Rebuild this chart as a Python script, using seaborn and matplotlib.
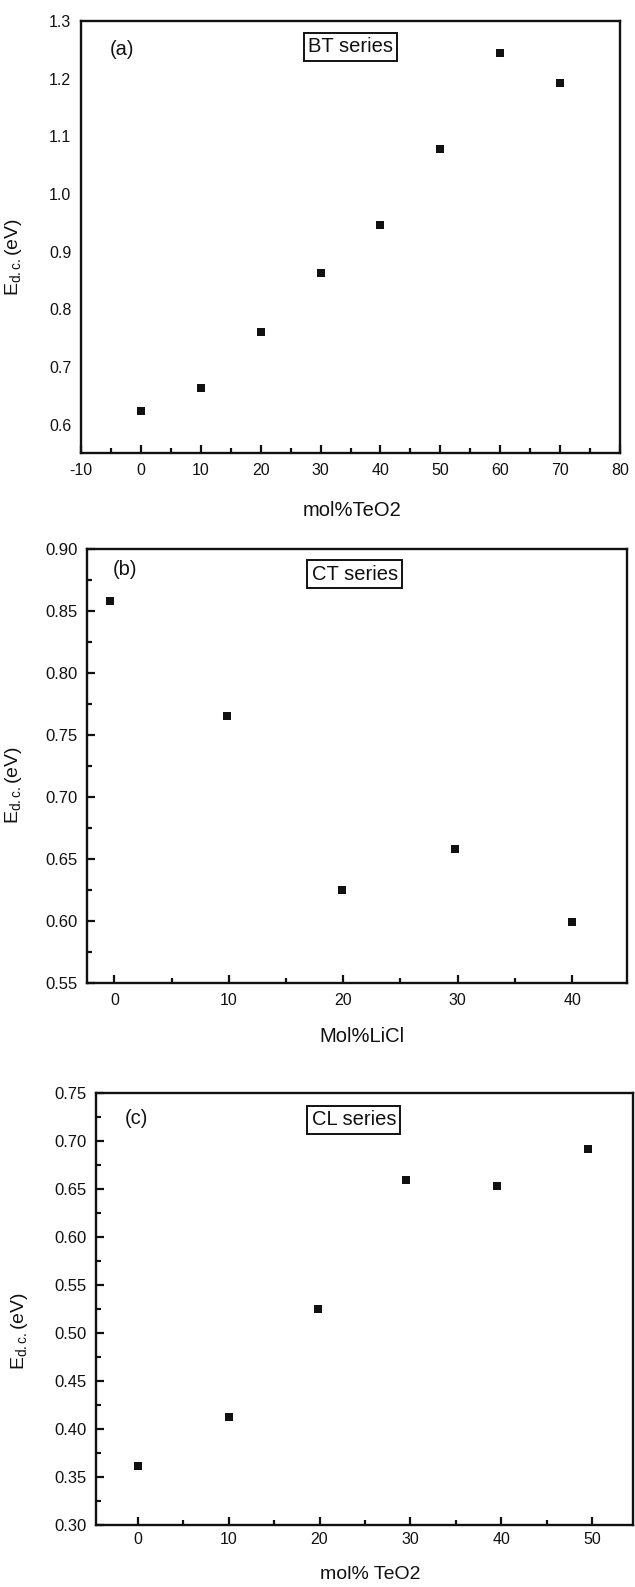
import matplotlib
matplotlib.use("Agg")
import matplotlib.pyplot as plt
from matplotlib.ticker import MultipleLocator, FormatStrFormatter
import seaborn as sns
import pandas as pd

# ---- data ----
bt_x = [0, 10, 20, 30, 40, 50, 60, 70]
bt_y = [0.624, 0.663, 0.761, 0.863, 0.946, 1.078, 1.245, 1.192]

ct_x = [-0.4, 9.8, 19.9, 29.8, 40]
ct_y = [0.858, 0.765, 0.625, 0.658, 0.599]

cl_x = [0, 10, 19.8, 29.5, 39.5, 49.5]
cl_y = [0.361, 0.413, 0.525, 0.659, 0.653, 0.692]

panel_tags = ["(a)", "(b)", "(c)"]
series_names = ["BT series", "CT series", "CL series"]
x_labels = ["mol%TeO2", "Mol%LiCl", "mol% TeO2"]
y_label = r"E$_{\mathrm{d.c.}}$(eV)"

sns.set_theme(style="ticks")
plt.rcParams["font.family"] = ["Liberation Sans", "DejaVu Sans"]
plt.rcParams["mathtext.fontset"] = "custom"
plt.rcParams["mathtext.rm"] = "Liberation Sans"
plt.rcParams["mathtext.it"] = "Liberation Sans:italic"

W, H = 635, 1587
fig = plt.figure(figsize=(W / 100, H / 100), dpi=100)
fig.patch.set_facecolor("white")

def px_axes(left, right, top, bottom):
    return fig.add_axes([left / W, 1 - bottom / H, (right - left) / W, (bottom - top) / H])

ax_a = px_axes(81, 620, 21, 453)
ax_b = px_axes(87, 627, 549, 983)
ax_c = px_axes(96, 633, 1093, 1525)

frames = [
    pd.DataFrame({"x": bt_x, "y": bt_y}),
    pd.DataFrame({"x": ct_x, "y": ct_y}),
    pd.DataFrame({"x": cl_x, "y": cl_y}),
]
axes = [ax_a, ax_b, ax_c]
xlims = [(-10, 80), (-2.4, 44.8), (-4.6, 54.5)]
ylims = [(0.551, 1.3), (0.55, 0.90), (0.30, 0.75)]
ymaj = [0.1, 0.05, 0.05]
yfmt = ["%.1f", "%.2f", "%.2f"]
xmaj = [10, 10, 10]
ytick_size = [11.5, 12, 12]
tag_pos = [(0.054, 0.933), (0.048, 0.952), (0.054, 0.942)]
box_pos = [(0.50, 0.94), (0.496, 0.942), (0.48, 0.938)]
ylab_pos = [(-0.106, 0.454), (-0.117, 0.456), (-0.123, 0.45)]
xlab_pos = [(0.503, -0.111), (0.51, -0.101), (0.51, -0.096)]

ink = "#111111"
for i, (ax, df) in enumerate(zip(axes, frames)):
    sns.scatterplot(data=df, x="x", y="y", ax=ax, marker="s", s=40,
                    color=ink, edgecolor=ink, linewidth=0, legend=False, zorder=3)
    ax.set_xlim(*xlims[i])
    ax.set_ylim(*ylims[i])
    ax.xaxis.set_major_locator(MultipleLocator(xmaj[i]))
    ax.xaxis.set_minor_locator(MultipleLocator(xmaj[i] / 2))
    ax.yaxis.set_major_locator(MultipleLocator(ymaj[i]))
    ax.yaxis.set_minor_locator(MultipleLocator(ymaj[i] / 2))
    ax.yaxis.set_major_formatter(FormatStrFormatter(yfmt[i]))
    ax.xaxis.set_major_formatter(FormatStrFormatter("%d"))
    for sp in ax.spines.values():
        sp.set_visible(True)
        sp.set_linewidth(1.7)
        sp.set_color(ink)
    ax.tick_params(axis="both", which="both", direction="in", colors=ink,
                   top=False, right=False, width=1.6)
    ax.tick_params(axis="x", which="major", labelsize=11.5)
    ax.tick_params(axis="y", which="major", labelsize=ytick_size[i])
    ax.tick_params(axis="both", which="major", length=6, pad=7)
    ax.tick_params(axis="both", which="minor", length=3.5)
    if i == 0:
        ax.tick_params(axis="y", which="both", length=0, pad=7)
    if i == 2:
        ax.tick_params(axis="x", which="major", pad=5)
    for lab in ax.get_xticklabels() + ax.get_yticklabels():
        lab.set_color(ink)
    ax.set_xlabel(x_labels[i], fontsize=14.5 if i < 2 else 14, color=ink)
    ax.set_ylabel(y_label, fontsize=14, color=ink)
    ax.xaxis.set_label_coords(*xlab_pos[i])
    ax.yaxis.set_label_coords(*ylab_pos[i])
    ax.text(tag_pos[i][0], tag_pos[i][1], panel_tags[i], transform=ax.transAxes,
            fontsize=14.5, color=ink, ha="left", va="center")
    ax.text(box_pos[i][0], box_pos[i][1], series_names[i], transform=ax.transAxes,
            fontsize=14.5, color=ink, ha="center", va="center",
            bbox=dict(boxstyle="square,pad=0.22", facecolor="white",
                      edgecolor=ink, linewidth=1.4))
    ax.set_facecolor("white")

fig.savefig("out.png", dpi=100, facecolor="white")
